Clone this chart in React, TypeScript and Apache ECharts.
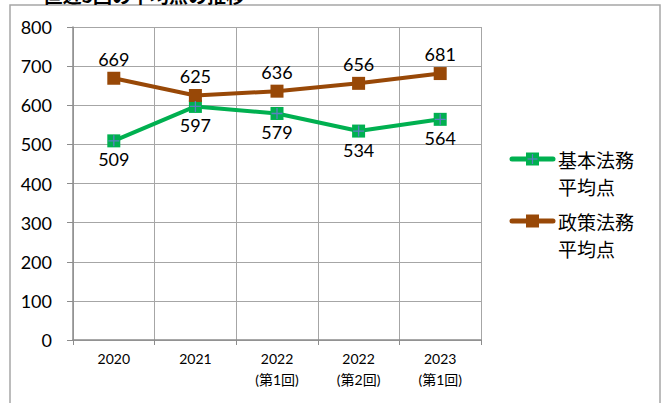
import React, { useEffect, useRef } from "react";
import * as echarts from "echarts";

const categories = ["2020", "2021", "2022\n(第1回)", "2022\n(第2回)", "2023\n(第1回)"];
const basicScores = [509, 597, 579, 534, 564];
const policyScores = [669, 625, 636, 656, 681];
const seriesNames = ["基本法務\n平均点", "政策法務\n平均点"];
const yTicks = { min: 0, max: 800, interval: 100 };
const titleText = "直近5回の平均点の推移";

const FONT = "Lato, 'Noto Sans CJK JP', sans-serif";
const JP = "'Noto Sans CJK JP', sans-serif";
const GREEN = "#00B050";
const BROWN = "#984807";
const CROSS = "#5b7fc0";

function legendItem(name: string, color: string, cy: number, cross: boolean) {
  const children: any[] = [
    {
      type: "line",
      shape: { x1: 512, y1: cy, x2: 553, y2: cy },
      style: { stroke: color, lineWidth: 5, lineCap: "round" },
    },
    {
      type: "rect",
      shape: { x: 532.5 - 6.5, y: cy - 6.5, width: 13, height: 13 },
      style: { fill: color },
    },
    {
      type: "text",
      x: 558,
      y: cy - 13.5,
      style: {
        text: name,
        fontSize: 19,
        lineHeight: 27,
        fill: "#000",
        align: "left",
        verticalAlign: "top",
        fontFamily: JP,
      },
    },
  ];
  if (cross) {
    children.push(
      { type: "line", shape: { x1: 532.5, y1: cy - 5, x2: 532.5, y2: cy + 5 }, style: { stroke: CROSS, lineWidth: 1.2 } },
      { type: "line", shape: { x1: 527.5, y1: cy, x2: 537.5, y2: cy }, style: { stroke: CROSS, lineWidth: 1.2 } }
    );
  }
  return { type: "group", silent: true, children };
}

export default function App() {
  const ref = useRef<HTMLDivElement>(null);
  useEffect(() => {
    if (!ref.current) return;
    const chart = echarts.init(ref.current, undefined, { renderer: "svg" });
    const crossPath =
      "path://M4.4,0 L5.6,0 L5.6,4.4 L10,4.4 L10,5.6 L5.6,5.6 L5.6,10 L4.4,10 L4.4,5.6 L0,5.6 L0,4.4 L4.4,4.4 Z";
    chart.setOption({
      animation: false,
      backgroundColor: "#ffffff",
      textStyle: { fontFamily: FONT },
      grid: { left: 73, right: 184, top: 27, bottom: 63, containLabel: false },
      xAxis: {
        type: "category",
        data: categories,
        boundaryGap: true,
        axisLine: { lineStyle: { color: "#8c8c8c", width: 1.5 } },
        axisTick: { show: true, interval: 0, length: 5, lineStyle: { color: "#8c8c8c" } },
        splitLine: { show: true, interval: 0, lineStyle: { color: "#a6a6a6", width: 1 } },
        axisLabel: { fontSize: 14, color: "#000", lineHeight: 21, margin: 8, interval: 0, fontFamily: FONT },
      },
      yAxis: {
        type: "value",
        min: yTicks.min,
        max: yTicks.max,
        interval: yTicks.interval,
        axisLine: { show: true, lineStyle: { color: "#8c8c8c", width: 1.5 } },
        axisTick: { show: true, length: 6, lineStyle: { color: "#8c8c8c" } },
        splitLine: { show: true, lineStyle: { color: "#a6a6a6", width: 1 } },
        axisLabel: { fontSize: 18, color: "#000", margin: 21, fontFamily: FONT },
      },
      series: [
        {
          name: seriesNames[0],
          type: "line",
          data: basicScores,
          symbol: "rect",
          symbolSize: 13,
          itemStyle: { color: GREEN },
          lineStyle: { color: GREEN, width: 4 },
          label: { show: true, position: "bottom", distance: 3, fontSize: 18, color: "#000", fontFamily: FONT },
          z: 3,
        },
        {
          name: seriesNames[1],
          type: "line",
          data: policyScores,
          symbol: "rect",
          symbolSize: 13,
          itemStyle: { color: BROWN },
          lineStyle: { color: BROWN, width: 4 },
          label: { show: true, position: "top", distance: 4, fontSize: 18, color: "#000", fontFamily: FONT },
          z: 3,
        },
        {
          name: "cross",
          type: "line",
          data: basicScores,
          symbol: crossPath,
          symbolSize: 11,
          showSymbol: true,
          itemStyle: { color: CROSS },
          lineStyle: { width: 0, opacity: 0 },
          label: { show: false },
          silent: true,
          z: 4,
        },
      ],
      graphic: [
        {
          type: "rect",
          shape: { x: 10, y: 5, width: 650, height: 440 },
          style: { fill: "none", stroke: "#a6a6a6", lineWidth: 1.5 },
          silent: true,
        },
        {
          type: "text",
          x: 245,
          y: 4,
          style: {
            text: titleText,
            align: "right",
            verticalAlign: "bottom",
            fontSize: 19,
            fontWeight: "bold",
            fill: "#000",
            fontFamily: JP,
          },
          silent: true,
        },
        legendItem(seriesNames[0], GREEN, 159, true),
        legendItem(seriesNames[1], BROWN, 221, false),
      ],
    });
    return () => chart.dispose();
  }, []);
  return (
    <div
      ref={ref}
      style={{ position: "fixed", left: 0, top: 0, width: 665, height: 403 }}
    />
  );
}
